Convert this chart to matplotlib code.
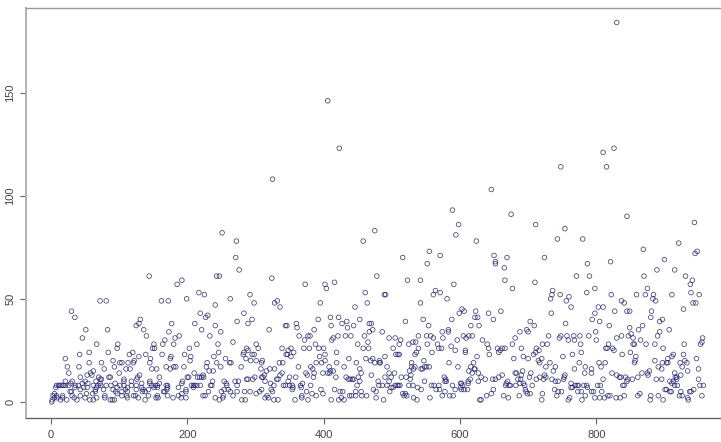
import matplotlib
matplotlib.use('Agg')
import matplotlib.pyplot as plt

plt.rcParams['font.family'] = ['Liberation Sans', 'DejaVu Sans']

# (index, value), one list per stretch of the x axis
peaks = [(406,146),(423,123),(325,108),(589,93),(598,86),(594,81),(475,83),(830,184),(826,123),
         (810,121),(748,114),(815,114),(646,103),(675,91),(711,86),(754,84),(845,90),(944,87)]

early = [(251,82),(272,78),(271,70),(276,64),(144,61),(243,61),(247,61),(192,59),(185,57),(217,53),
         (225,52),(199,50),(263,50),(72,49),(81,49),(162,49),(172,49),(241,47),(30,44),(35,41),(219,43),
         (230,42),(227,41),(273,39),(131,40),(129,38),(125,37),(177,38),(211,38),(241,37),(51,35),(83,35),
         (136,35),(221,35),(249,34),(173,34),(140,32),(188,32),(182,31),(233,32),(46,31),(167,30),(267,29),
         (67,28),(98,28),(151,28),(164,28),(180,28),(214,28),(245,28),(97,26),(149,26),(152,26),(203,26),
         (84,24),(56,24),(120,24),(246,24),(42,23),(115,23),(139,23),(163,23),(196,23),(239,22),(205,22),
         (129,22),(176,22),(175,21),(21,21),(146,21),(204,20),(256,21),(91,20),(122,20),(101,19),(104,19),
         (113,19),(121,19),(56,19),(74,19),(145,19),(229,19),(243,19),(262,19),(264,19),(24,17),(41,17),
         (93,17),(110,16),(116,16),(78,16),(148,16),(155,16),(169,17),(175,16),(180,17),(183,17),(195,17),
         (249,17),(228,17),(232,15),(238,15),(26,14),(62,15),(58,14),(60,13),(53,13),(100,14),(130,13),
         (127,12),(85,12),(87,12),(43,12),(70,12),(72,11),(74,11),(107,11),(126,11),(159,12),(202,12),
         (200,12),(215,12),(223,13),(210,14),(221,12),(218,12),(224,12),(118,10),(145,10),
         (8,8),(11,8),(13,8),(16,8),(18,8),(21,8),(26,8),(36,8),(40,8),(62,8),(69,8),(73,8),(81,8),(88,8),
         (101,8),(107,8),(118,8),(125,8),(148,8),(153,8),(156,8),(169,8),(171,8),(206,8),(209,8),(211,8),
         (214,8),(219,8),(234,8),(236,8),(258,8),(273,8),
         (21,10),(29,9),(31,10),(46,9),(50,10),(54,9),(66,10),(72,9),(94,9),(107,10),(133,9),(145,9),
         (159,9),(192,9),(193,10),(237,10),(254,10),(257,9),(270,10),(275,10),
         (7,7),(35,7),(43,6),(48,7),(53,7),(65,6),(67,7),(77,6),(91,6),(97,7),(109,6),(112,7),(125,6),
         (133,7),(135,6),(143,6),(151,7),(156,7),(170,6),(171,7),(187,7),(198,6),(209,7),(254,6),(260,6),
         (28,5),(30,5),(65,5),(95,5),(104,5),(112,5),(134,5),(138,5),(165,5),(167,5),(198,5),(231,5),
         (250,5),(263,5),(273,5),
         (3,3),(5,4),(8,3),(17,3),(31,3),(43,3),(52,4),(61,4),(79,3),(97,4),(104,3),(111,3),(121,3),(124,3),
         (143,3),(156,3),(171,3),(187,3),(192,4),(223,3),(226,3),(253,3),(267,3),
         (2,1),(5,2),(9,2),(14,1),(17,2),(23,1),(34,2),(38,1),(50,2),(57,1),(62,1),(67,2),(79,2),(87,1),
         (90,1),(93,1),(112,2),(128,2),(138,1),(154,2),(157,2),(179,2),(191,2),(198,2),(241,2),(247,1),
         (252,2),(1,0)]

middle = [(458,78),(624,78),(516,70),(555,73),(571,71),(552,67),(324,60),(478,61),(416,58),(373,57),
          (402,57),(404,55),(523,59),(542,59),(591,57),(461,53),(564,54),(561,52),(571,53),(489,52),
          (491,52),(292,52),(581,50),(298,48),(328,48),(332,49),(336,46),(395,48),(464,48),(542,48),
          (446,46),(283,43),(603,45),(599,43),(606,44),(623,44),(622,41),(626,41),(295,40),(289,38),
          (392,40),(410,41),(422,41),(411,37),(427,38),(434,39),(435,36),(444,37),(453,40),(467,38),
          (470,38),(472,35),(467,34),(386,35),(320,35),(344,37),(346,37),(360,38),(361,36),(520,39),
          (546,40),(554,37),(588,40),(616,37),(628,37),(574,34),(583,35),(583,34),(364,32),(377,32),
          (380,32),(372,30),(414,31),(412,30),(421,32),(432,32),(440,32),(460,32),(486,34),(496,31),
          (505,31),(513,30),(511,28),(551,32),(539,32),(557,32),(561,31),(575,31),(605,32),(609,31),
          (613,32),(618,32),(596,30),(465,29),(450,28),(525,28),(531,29),(535,29),(552,28),(567,28),
          (587,27),(301,28),(304,26),(287,26),(339,26),(352,26),(348,25),(371,26),(379,26),(388,28),
          (393,26),(400,26),(458,26),(466,26),(502,26),(539,26),(569,26),(573,26),(593,25),(608,25),
          (608,24),(283,24),(289,25),(282,23),(286,21),(295,23),(298,23),(345,23),(347,23),(356,24),
          (352,22),(419,24),(506,23),(509,23),(511,23),(536,24),(534,23),(559,24),(293,20),(301,20),
          (310,20),(309,19),(335,19),(340,19),(363,17),(394,22),(402,23),(402,20),(389,19),(397,19),
          (419,19),(437,21),(448,19),(462,21),(472,21),(469,20),(475,19),(482,19),(482,20),(483,19),
          (490,22),(529,19),(547,20),(534,17),(584,19),(625,22),(620,19),(616,17),(621,16),(613,15),
          (618,14),(622,16),(597,17),(545,16),(543,16),(548,17),(555,17),(551,17),(279,17),(308,16),
          (321,16),(328,16),(316,15),(381,17),(384,16),(374,14),(376,13),(385,12),(386,14),(399,14),
          (408,17),(410,15),(406,14),(409,14),(414,15),(430,17),(453,16),(455,14),(493,17),(496,14),
          (504,14),(526,15),(529,17),(532,16),(528,13),(470,13),(490,12),(499,12),(514,12),(521,12),
          (527,11),(577,12),(578,10),(580,10),(579,11),(627,14),(627,10),(612,10),(615,11),(602,9),
          (313,13),(309,12),(311,12),(289,11),(287,11),(296,11),(299,12),(314,10),(322,9),(331,11),
          (333,11),(339,14),(336,13),(327,8),(341,8),(344,8),(350,12),(348,10),(359,12),(354,8),(350,8),
          (366,8),(369,9),(367,7),(355,7),(354,6),(381,8),(418,12),(433,12),(436,11),(439,11),(442,11),
          (444,11),(451,12),(453,10),(449,8),(480,10),(481,8),(486,8),(493,8),(496,10),(499,7),(505,8),
          (508,8),(510,8),(512,8),(525,8),(531,8),(548,10),(538,7),(543,6),(558,8),(562,8),(569,8),(565,6),
          (570,6),(578,5),(589,8),(601,9),(601,7),(604,8),(606,6),(602,6),(611,6),(612,9),(284,5),(292,5),
          (301,4),(306,5),(309,6),(314,2),(317,3),(319,2),(323,6),(325,5),(327,1),(333,1),(280,1),(285,1),
          (358,1),(368,3),(368,2),(375,5),(377,1),(383,4),(389,3),(396,6),(399,4),(411,1),(416,6),(424,5),
          (428,5),(426,2),(430,1),(422,1),(438,3),(441,3),(447,5),(447,3),(455,5),(456,3),(463,3),(473,6),
          (477,5),(477,2),(488,1),(497,5),(502,7),(516,4),(520,4),(518,3),(522,3),(532,2),(537,1),(556,2),
          (574,3),(585,3),(590,3),(593,6),(629,1)]

late = [(743,79),(780,79),(650,71),(652,68),(652,67),(669,70),(665,65),(724,70),(787,67),(821,68),
        (869,74),(921,77),(948,73),(945,72),(900,69),(889,64),(915,64),(771,61),(790,61),(870,61),
        (931,61),(666,59),(710,58),(941,59),(938,57),(677,55),(875,55),(798,55),(786,53),(736,54),
        (735,52),(733,50),(747,52),(760,51),(756,49),(822,52),(859,52),(872,52),(884,52),(883,50),
        (887,49),(911,52),(939,53),(951,52),(942,48),(946,48),(837,49),(841,48),(763,46),(803,46),
        (810,46),(798,43),(827,44),(845,44),(849,44),(881,44),(928,45),(734,43),(642,43),(660,44),
        (649,40),(880,41),(897,40),(893,39),(794,40),(805,39),(755,38),(703,39),(709,37),(819,37),
        (868,37),(849,36),(862,35),(698,35),(700,34),(688,34),(681,31),(677,28),(799,34),(893,34),
        (907,35),(890,32),(730,32),(748,32),(746,31),(757,32),(759,30),(767,32),(768,30),(776,32),
        (789,32),(800,30),(777,28),(830,31),(837,32),(847,32),(851,33),(854,31),(856,28),(854,28),
        (865,30),(873,28),(886,28),(929,28),(956,31),(955,29),(953,28),(818,28),(816,26),(824,26),
        (826,25),(814,26),(728,28),(721,28),(655,26),(659,25),(662,26),(666,26),(690,26),(712,26),
        (711,24),(643,23),(640,28),(642,26),(633,30),(657,24),(708,23),(716,25),(720,21),(715,20),
        (693,22),(700,21),(679,21),(717,19),(732,19),(726,17),(740,17),(737,15),(751,22),(765,23),
        (778,24),(775,19),(768,16),(784,17),(793,16),(804,19),(813,19),(807,17),(783,14),(793,14),
        (838,23),(850,24),(858,22),(856,19),(857,20),(886,20),(898,26),(913,23),(911,22),(928,23),
        (947,21),(891,17),(896,16),(897,19),(903,19),(905,21),(905,19),(923,19),(930,20),(933,19),
        (926,17),(950,16),(934,15),(924,13),(915,14),(878,15),(875,14),(867,14),(861,12),(853,11),
        (846,11),(823,14),(830,13),(834,12),(843,12),(836,12),(845,10),(841,8),(839,8),(810,11),(802,8),
        (806,8),(888,11),(896,11),(950,11),(876,13),(916,12),(908,10),(918,12),(918,11),(913,10),(911,9),
        (919,8),(915,8),(903,6),(901,6),(908,5),(910,5),(924,5),(952,8),(957,8),(955,3),(937,5),(939,5),
        (943,6),(934,2),(935,1),(922,3),(926,3),(891,3),(898,1),(880,3),(879,1),(861,3),(864,4),(841,3),
        (835,2),(829,2),(820,3),(817,3),(812,2),(805,2),(798,2),(808,5),(796,5),(793,5),(784,3),(778,5),
        (773,5),(779,1),(761,2),(759,1),(769,8),(772,8),(774,8),(765,7),(763,7),(782,8),(787,7),(786,8),
        (721,4),(720,1),(687,3),(671,2),(664,3),(649,6),(646,4),(639,3),(631,1),(703,4),(697,5),(696,6),
        (699,4),(739,6),(744,5),(749,5),(742,3),(706,8),(693,9),(695,8),(685,11),(681,14),(683,14),
        (690,13),(692,15),(704,14),(702,12),(689,11),(688,9),(672,8),(674,8),(670,10),(668,9),(667,8),
        (682,8),(657,12),(648,11),(652,11),(637,11),(662,13),(631,12),(712,11),(717,12),(724,13),(726,12),
        (723,11),(735,11),(740,10),(744,10),(752,11),(754,13),(753,12),(763,9)]

x_ticks = [0, 200, 400, 600, 800]
y_ticks = [0, 50, 100, 150]

points = peaks + early + middle + late
xs = [p[0] for p in points]
ys = [p[1] for p in points]

fig = plt.figure(figsize=(7.21, 4.42), dpi=100)
ax = fig.add_axes([26 / 721, 24 / 442, 695 / 721, 410 / 442])

ax.scatter(xs, ys, s=11, marker='o', facecolors='none', edgecolors='#1f1f72', linewidths=0.55, alpha=0.85)

ax.set_xlim(-36.7, 983)
ax.set_ylim(-7.8, 191)

ax.set_xticks(x_ticks)
ax.set_yticks(y_ticks)
ax.tick_params(axis='x', length=4, width=0.8, color='#666666', labelcolor='#444444', labelsize=8, pad=5)
ax.tick_params(axis='y', length=4, width=0.8, color='#666666', labelcolor='#444444', labelsize=8, pad=3.5)
for lab in ax.get_yticklabels():
    lab.set_rotation(90)
    lab.set_va('center')

ax.spines['right'].set_visible(False)
ax.spines['left'].set_color('#b0b0b0')
ax.spines['left'].set_linewidth(1.4)
ax.spines['top'].set_color('#999999')
ax.spines['top'].set_linewidth(1.0)
ax.spines['bottom'].set_color('#666666')
ax.spines['bottom'].set_linewidth(1.0)

fig.savefig('out.png', dpi=100)
